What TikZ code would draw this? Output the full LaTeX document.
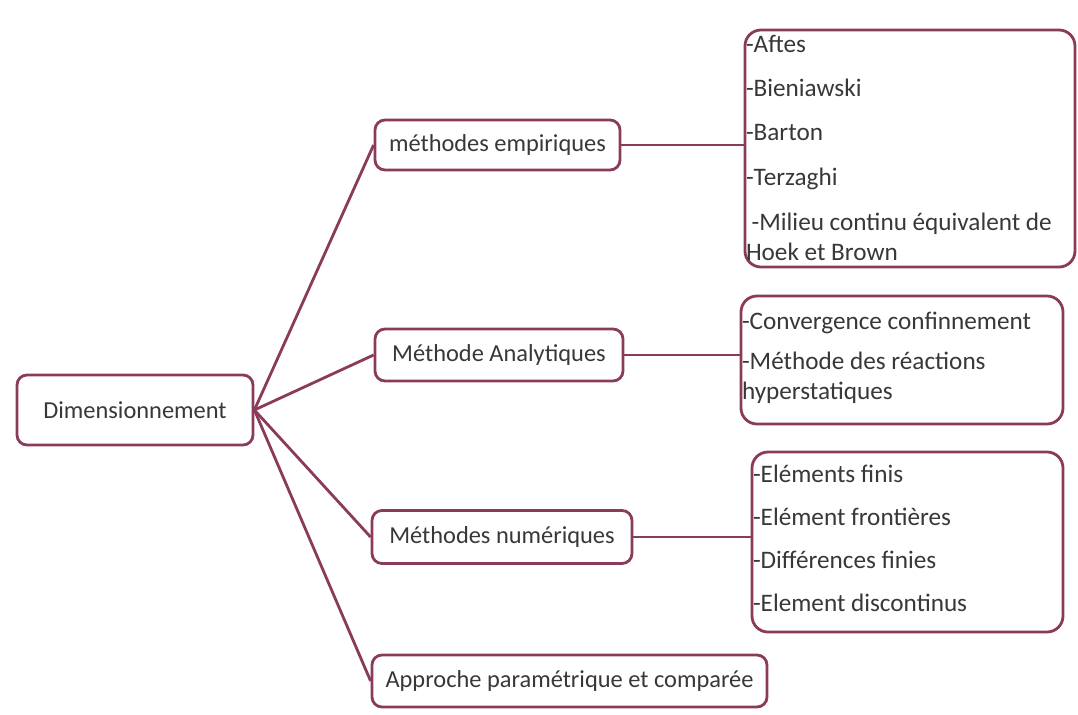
\documentclass[tikz,border=0pt]{standalone}
\usepackage{fontspec}
\setmainfont{Carlito}
\usetikzlibrary{positioning}
\definecolor{plum}{HTML}{8A3A5A}
\definecolor{ink}{HTML}{383838}

\begin{document}
\begin{tikzpicture}[x=0.5pt,y=-0.5pt,
  box/.style={draw=plum, line width=1.4pt, rounded corners=5pt, fill=white, text=ink, font=\fontsize{12.2}{14}\selectfont, inner sep=0pt},
  listbox/.style={draw=plum, line width=1.4pt, rounded corners=8pt, fill=white, inner sep=0pt},
  listtext/.style={text=ink, font=\fontsize{12.6}{15}\selectfont, align=left, inner sep=0pt, anchor=north west},
  link/.style={draw=plum, line width=1.4pt}]
\useasboundingbox[fill=white] (0,0) rectangle (1078,714);
% main boxes
\node[box, minimum width=118pt, minimum height=35pt] (dim) at (135,410) {Dimensionnement};
\node[box, minimum width=122.5pt, minimum height=25pt] (emp) at (497.5,145) {méthodes empiriques};
\node[box, minimum width=124pt, minimum height=26pt] (ana) at (499,355) {Méthode Analytiques};
\node[box, minimum width=130pt, minimum height=26.5pt] (num) at (502,537) {Méthodes numériques};
\node[box, minimum width=197.5pt, minimum height=26pt] (app) at (569.5,681) {Approche paramétrique et comparée};
% list boxes
\node[listbox, minimum width=165pt, minimum height=118.5pt] (lemp) at (910,148.5) {};
\node[listbox, minimum width=161pt, minimum height=64pt] (lana) at (902,360) {};
\node[listbox, minimum width=155.5pt, minimum height=90pt] (lnum) at (907.5,542) {};
\node[listtext] (temp) at ([xshift=1pt,yshift=-3pt]lemp.north west)
  {-Aftes\\[7pt] -Bieniawski\\[7pt] -Barton\\[7.5pt] -Terzaghi\\[7.5pt] \ -Milieu continu équivalent de\\ Hoek et Brown};
\node[listtext] (tana) at ([xshift=1pt,yshift=-8.5pt]lana.north west)
  {-Convergence confinnement\\[5pt] -Méthode des réactions\\ hyperstatiques};
\node[listtext] (tnum) at ([xshift=1pt,yshift=-7pt]lnum.north west)
  {-Eléments finis\\[6.5pt] -Elément frontières\\[6.5pt] -Différences finies\\[6.5pt] -Element discontinus};
% connectors
\foreach \child in {emp,ana,num,app}
  \draw[link] (dim.east) -- (\child.west);
\draw[link] (emp.east) -- (emp.east -| lemp.west);
\draw[link] (ana.east) -- (ana.east -| lana.west);
\draw[link] (num.east) -- (num.east -| lnum.west);
\end{tikzpicture}
\end{document}
